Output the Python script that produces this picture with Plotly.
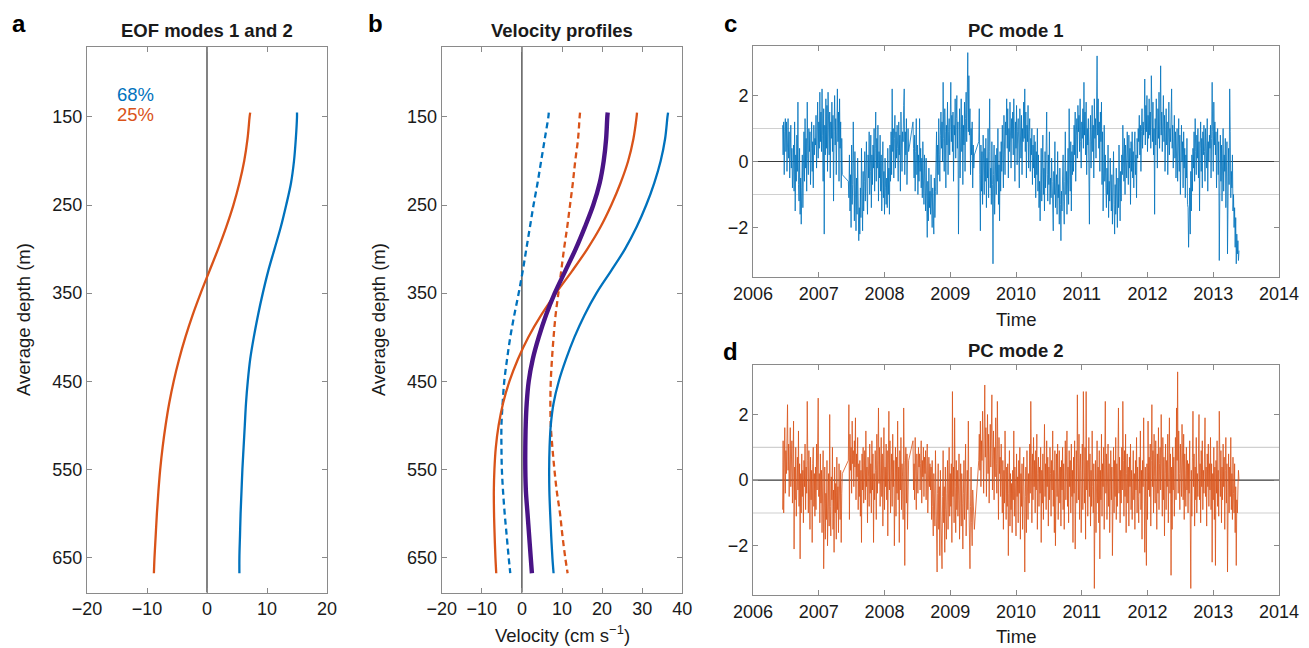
import plotly.graph_objects as go

# ---------------- Panel a / b : depth profiles ----------------
depths = [145, 150, 175, 200, 225, 250, 275, 300, 325, 350, 375, 400, 425, 450,
          475, 500, 525, 550, 575, 600, 625, 650, 668]

eof1 = [15.0, 15.0, 14.8, 14.5, 14.0, 13.2, 12.3, 11.25, 10.2, 9.3, 8.5, 7.8, 7.2, 6.8,
        6.5, 6.3, 6.1, 5.9, 5.75, 5.6, 5.5, 5.4, 5.4]
eof2 = [7.2, 7.1, 6.75, 6.2, 5.4, 4.4, 3.2, 1.85, 0.4, -1.05, -2.4, -3.6, -4.65, -5.55,
        -6.3, -6.9, -7.4, -7.8, -8.1, -8.35, -8.55, -8.75, -8.85]

vel_mean = [21.4, 21.3, 21.0, 20.4, 19.4, 17.8, 15.7, 13.4, 10.8, 8.2, 6.0, 4.2, 2.7, 1.7,
            1.2, 0.95, 0.85, 0.85, 1.0, 1.4, 1.8, 2.2, 2.5]
vel_mode1_plus = [36.45, 36.3, 35.7, 34.6, 33.0, 31.0, 28.6, 25.7, 22.2, 18.6, 15.6, 13.1, 11.0, 9.2,
                  7.9, 7.2, 6.9, 6.8, 6.85, 7.05, 7.3, 7.6, 7.9]
vel_mode1_minus = [6.7, 6.6, 5.7, 4.8, 3.9, 2.9, 2.0, 1.1, 0.2, -0.8, -1.9, -2.9, -3.7, -4.4,
                   -4.8, -5.1, -5.1, -5.0, -4.7, -4.3, -3.8, -3.3, -2.9]
vel_mode2_plus = [28.7, 28.6, 27.8, 26.5, 24.6, 22.3, 19.6, 16.3, 12.5, 8.5, 4.8, 1.6, -1.0, -3.1,
                  -4.7, -5.8, -6.5, -6.85, -7.0, -6.95, -6.8, -6.6, -6.4]
vel_mode2_minus = [14.5, 14.4, 14.0, 13.3, 12.7, 12.0, 11.3, 10.5, 9.8, 9.1, 8.4, 7.9, 7.5, 7.2,
                   7.1, 7.2, 7.6, 8.1, 8.7, 9.5, 10.1, 10.8, 11.4]

variance_labels = ["68%", "25%"]

# ---------------- Panel c / d : principal component time series ----------------
pc_start_year = 2006.45
pc_samples_per_year = 120
N = None
pc1_values = [
    1.1, 0.2, 1.2, -0.4, 0.9, 1.3, 0.3, 1.2, -0.3, 0.8,
    1.3, 0.1, 0.9, -0.5, 0.6, 1.1, -0.2, 0.4, -0.8, 0.3,
    0.5, -0.9, 1.2, -1.5, 0.2, -0.6, 0.8, -0.3, 1.8, -0.7,
    -1.2, 0.4, -1.6, -0.5, -1.9, -0.8, 0.2, -1.4, -0.3, 0.9,
    -0.6, 1.3, -0.2, 0.7, -0.9, 1.8, 0.1, -0.4, 1.0, 0.3,
    0.9, -0.7, 0.4, 1.2, -0.3, 0.6, -0.8, 1.1, 0.2, 0.7,
    0.5, 1.4, -0.2, 0.9, 1.8, 0.1, 1.2, 0.4, 2.1, 0.6,
    1.5, 0.3, 2.2, 0.8, -0.6, 1.6, -2.2, 1.1, 0.2, 1.9,
    0.4, 1.7, -0.3, 2.1, 0.9, 0.2, 1.5, -0.5, 1.2, 0.7,
    1.8, 0.3, 1.4, -1.2, 0.9, 2.0, 0.5, 1.3, -0.4, 1.7,
    2.2, 0.6, 1.5, -0.6, 1.9, 0.4, 1.2, -0.8, 0.7, -0.4,
    N, N, N, N, N, N, N, N, N, N,
    -0.6, -1.1, 0.2, -1.5, -0.4, -2.0, 0.5, -1.3, -0.7, 1.2,
    -0.9, -1.8, 0.3, -1.2, -2.1, -0.5, -1.6, 0.1, -1.0, -2.4,
    -1.4, -2.2, -0.8, -1.7, 0.4, -1.1, -2.1, -0.3, -1.5, -0.6,
    0.3, -1.2, -0.4, 0.6, -0.9, -1.6, 0.2, -0.5, 0.9, -1.0,
    -0.3, 0.8, -1.4, 0.2, -0.7, 0.5, -0.2, 1.0, -0.9, 0.4,
    1.5, -0.6, 0.7, -0.2, 1.1, -1.2, 0.3, -0.5, 0.8, -0.9,
    0.2, -1.5, -0.4, 0.6, -1.1, -0.3, -1.6, 0.1, -0.8, -1.3,
    -0.5, -1.4, 0.4, -1.0, -0.2, -1.6, 0.5, -0.6, 0.9, -0.4,
    2.2, 0.3, 1.0, -0.5, 0.7, 1.4, -0.2, 0.9, 0.1, 1.1,
    0.4, -0.6, 1.2, 0.2, 0.8, -0.9, 1.5, 0.5, -0.3, 0.9,
    0.6, 1.7, 2.2, -0.4, 0.9, 0.2, 1.3, -0.7, 0.5, 1.0,
    0.3, N, N, N, N, N, N, N, 1.2, 0.4,
    -0.5, 0.8, -0.9, 0.3, 1.3, -0.4, 0.5, -1.0, 0.2, -0.6,
    1.3, -0.3, 0.4, -0.8, 0.1, -1.1, 0.6, -0.5, -1.3, 0.2,
    -0.7, -1.5, 0.1, -1.2, -2.3, -0.6, -1.8, -0.2, -1.4, -0.9,
    -1.6, -0.4, -1.1, -2.0, -0.8, -1.3, -2.2, -0.5, -1.7, -0.9,
    -0.3, 0.9, -1.0, 0.5, -0.4, 1.3, 0.2, -0.6, 0.8, 1.5,
    0.4, 1.2, 0.0, 2.4, 0.7, -0.3, 1.6, 0.9, -0.8, 1.1,
    0.5, 1.8, -0.4, 0.9, 1.3, 0.2, 1.0, 2.4, 0.6, 1.4,
    0.3, 1.5, -0.6, 1.1, 0.8, 1.9, 0.1, 1.3, 2.0, 0.4,
    1.2, -2.2, 0.7, 1.6, -0.5, 1.0, 1.9, 0.3, 1.4, -0.7,
    1.1, 0.5, 1.8, -0.3, 1.3, 2.1, 0.6, 1.5, 3.3, 0.9,
    2.6, 0.8, 1.6, -0.4, 1.0, 0.2, 1.2, -0.8, 0.5, -0.2,
    0.2, N, N, N, N, N, N, N, 0.6, 1.6,
    -0.4, -2.1, 0.5, -0.9, 0.3, -1.3, 0.8, -0.2, -1.0, 0.4,
    -0.6, 0.7, -1.4, 0.1, -0.5, 1.0, -1.1, 0.3, 1.9, -0.8,
    -0.2, -1.3, 0.6, -0.7, -3.1, -0.4, 0.5, -1.6, -0.3, 0.2,
    -1.0, 0.4, -0.6, 1.0, -1.3, -0.1, -1.8, 0.3, -0.9, 0.6,
    -0.3, 1.1, 0.2, -0.8, 1.4, 0.5, -0.4, 1.2, 0.8, 1.9,
    0.4, 1.6, -0.5, 1.0, 0.3, 1.8, 0.6, -0.2, 1.3, 0.7,
    1.5, 0.2, 1.9, 0.8, -0.6, 1.2, 0.4, 1.7, -0.1, 0.9,
    1.3, 0.5, -0.8, 1.6, 0.9, 0.1, 1.4, -0.4, 1.0, 0.6,
    1.8, 0.7, 2.2, 0.3, 1.5, -0.5, 1.1, 0.6, 1.7, -0.2,
    0.9, 1.3, -0.3, 0.7, 0.2, 1.0, -0.7, 0.5, -0.2, 0.8,
    -0.5, 0.6, -1.1, 0.3, -0.4, 1.0, -0.9, 0.2, -1.4, -0.6,
    -1.8, -0.3, 0.4, -1.2, -0.6, 0.8, -1.0, -0.2, -1.5, 0.3,
    -0.8, 0.5, 1.5, -0.4, -1.2, 0.2, -0.7, 0.9, -1.3, -0.5,
    -1.1, 0.1, -0.6, -1.5, -2.1, -0.3, -1.0, 0.6, -1.4, -0.8,
    -0.4, -1.6, 0.3, -1.1, -0.7, -1.9, -0.2, -1.3, -2.4, -0.9,
    -1.5, -0.5, 0.2, -1.2, -1.9, -0.6, 0.9, -1.0, -0.3, -1.6,
    -0.7, 0.4, -1.3, 1.6, -0.2, -0.9, 0.6, -1.5, 0.3, -0.4,
    0.5, -0.3, 1.1, 0.2, 1.5, -0.6, 0.8, 1.3, 0.1, 1.7,
    0.9, 1.4, 0.3, 1.9, 0.6, -0.2, 1.2, 0.7, 1.6, 0.4,
    2.4, 0.8, 1.5, 0.2, 1.8, -0.4, 1.0, 0.5, 1.3, -0.6,
    -1.9, 0.6, 1.4, -0.2, 0.9, 1.7, 0.3, 1.1, -0.5, 1.9,
    0.7, 1.3, 0.1, 1.6, 3.2, 0.8, 1.9, 0.4, 1.2, -0.3,
    1.5, 0.6, 1.8, -0.7, 0.9, -1.5, 0.4, 1.1, -0.6, 0.2,
    -0.8, -1.4, -0.2, -1.0, 0.5, -1.7, -0.6, -1.2, 0.1, -0.9,
    -1.5, -0.4, -1.9, -0.8, 0.3, -1.3, -2.2, -0.7, -1.6, -0.2,
    -1.1, -2.0, -0.5, -1.4, 0.5, -0.9, -1.8, -0.3, -1.2, 0.2,
    -0.4, 1.1, 0.3, -0.6, 0.7, -1.0, 0.5, 0.1, -0.5, 0.9,
    0.2, -0.7, 0.8, -0.2, 0.4, -1.3, 0.6, -0.3, 0.9, -0.5,
    0.3, -0.8, 0.5, 0.9, -0.4, 0.2, -1.1, 0.7, 0.1, 1.0,
    0.6, 1.4, 0.2, 1.1, -0.3, 0.9, 1.6, 0.4, 1.2, 0.8,
    1.1, 2.5, 0.5, 1.7, 0.9, 2.0, 0.3, 1.4, 0.7, 1.9,
    0.8, 1.5, 0.4, 2.6, 1.2, 0.6, 1.8, 0.2, 1.0, -1.6,
    1.3, 0.5, 1.9, 0.9, -0.2, 1.6, 0.7, 2.1, 0.4, 1.2,
    2.9, 0.8, 1.5, 0.3, 1.1, 2.0, 0.6, 1.4, -0.3, 0.9,
    1.6, 0.5, 1.2, -0.4, 0.8, 1.8, 0.2, 1.0, 0.6, 1.3,
    2.2, 0.4, 1.1, -0.2, 0.7, 1.4, 0.1, 0.9, -0.5, 0.6,
    1.0, -0.6, 0.5, 1.3, -0.3, 0.8, -1.0, 0.4, 1.1, 0.0,
    0.6, -0.8, 0.9, -0.2, 0.4, -1.1, 0.2, -0.5, 0.7, -1.3,
    -1.4, -2.6, -1.9, -0.8, -2.2, -0.3, -1.5, 0.2, -0.9, 0.4,
    -0.2, 0.9, -0.6, 1.3, 0.3, -0.4, 0.8, 0.1, 1.0, -0.5,
    0.6, -1.5, 0.4, 1.2, -0.3, 0.7, -0.8, 0.9, 0.2, 1.1,
    0.3, -0.6, 1.0, 0.5, -0.2, 1.3, -0.9, 0.6, 0.0, 0.8,
    0.4, 1.1, -0.5, 0.7, 2.4, 0.9, -0.3, 1.8, 0.5, 1.2,
    0.2, 0.9, -0.8, 0.5, 1.0, -0.4, 0.6, -3.0, -0.2, 0.8,
    -0.6, 0.5, -1.2, 0.3, 1.0, -0.9, 0.2, -0.3, 0.7, -1.4,
    -0.5, 0.6, -2.8, -1.0, 0.4, -0.7, 2.2, 0.9, -1.1, -0.3,
    -0.8, 0.2, -1.5, -1.0, -2.0, -1.4, -2.6, -1.7, -3.1, -2.2,
    -2.8, -2.4, -3.0, -2.7,
]

pc2_values = [
    -0.9, 1.2, -1.0, 0.6, 1.6, -0.4, 0.9, 0.2, 1.4, 2.3,
    0.3, 1.1, -0.5, 0.8, 1.6, -0.2, 0.5, 1.2, -0.7, 0.9,
    1.8, -2.1, 0.4, -0.6, 1.0, -1.1, 0.3, 0.7, -0.3, 1.5,
    -0.8, 0.5, -2.4, 0.2, -1.0, 0.8, -0.5, 0.3, -1.3, 0.6,
    -0.2, 1.1, -0.9, 0.4, -0.4, 2.4, 0.6, -1.0, 0.9, -0.3,
    -1.5, 0.7, -0.6, 0.3, -1.9, 0.5, 1.0, -0.8, 0.2, -1.1,
    0.4, -0.9, 1.1, -0.3, 0.6, 2.5, -0.5, 0.2, -1.3, 0.8,
    -0.7, 0.3, -1.6, -0.2, 0.9, -2.7, -0.9, 0.4, -1.8, -0.4,
    -1.2, 0.6, -2.0, -0.5, 0.2, -1.4, 2.0, -0.8, -1.7, 0.1,
    -0.6, 1.0, -1.5, -0.3, -2.2, 0.4, -1.0, -0.1, -1.8, 0.7,
    -0.9, -0.2, -1.6, 0.5, -0.6, -1.2, 0.3, -1.9, -0.4, 0.2,
    N, N, N, N, N, N, N, N, N, N,
    0.6, 2.3, -1.2, 1.4, 0.3, 1.0, -0.4, 1.8, 0.5, 0.9,
    -0.2, 1.2, 0.4, 1.9, -0.6, 0.8, 0.1, 1.3, -0.9, 0.5,
    -0.5, 0.6, -1.1, 0.3, -1.9, 0.8, -0.3, 1.0, -0.7, 0.2,
    0.9, -0.6, 1.5, -0.2, 0.4, -1.3, 0.7, 0.1, -0.8, 1.1,
    -0.4, 0.5, -1.0, 1.2, -0.3, 0.8, -1.9, 0.2, -0.6, 0.9,
    0.3, -1.2, 1.4, -0.4, 0.6, 2.2, -0.1, 1.0, -0.8, 0.5,
    1.3, -0.5, 0.8, -1.4, 0.2, 1.6, -0.9, 0.4, -0.2, 1.1,
    -0.6, 0.9, -1.7, 0.5, 2.1, -0.3, 1.2, -1.0, 0.3, 0.8,
    -0.8, 1.4, -0.2, 0.6, -2.0, 0.3, 1.0, -1.1, 0.7, -0.4,
    1.8, -0.6, 0.4, -1.9, 0.9, -0.3, 1.3, -0.9, 0.5, 0.1,
    -1.2, 2.2, 0.6, -2.6, 0.4, 1.0, -0.7, 0.8, -1.5, 0.3,
    0.6, N, N, N, N, N, N, N, 1.2, -0.3,
    0.5, -0.6, 1.3, 0.2, -0.9, 0.8, 0.3, -0.4, 1.0, 0.4,
    0.8, -0.3, 0.5, 1.2, -0.7, 0.6, 0.1, 1.0, -0.5, 0.7,
    0.2, 0.9, -0.6, 0.4, 1.1, -1.0, 0.3, 0.7, -0.2, 0.5,
    -0.3, 0.4, -1.2, 0.6, -0.8, -1.7, 0.2, -0.5, -1.4, 0.9,
    -0.6, -1.9, -2.8, -0.4, 0.5, -1.5, -0.2, -2.3, 0.3, -1.0,
    -1.6, -2.7, -0.5, 0.9, -1.3, -0.2, -2.2, 0.4, -0.9, -1.8,
    -0.4, 0.6, -1.5, -0.3, 1.0, -1.1, 0.2, -0.8, 0.5, -1.9,
    2.7, -0.5, 0.4, -1.3, 1.9, -0.2, -1.6, 0.6, -0.9, 0.3,
    -1.1, -0.3, 0.8, -1.8, -0.6, 0.5, -1.4, 0.2, -0.7, -2.1,
    -0.4, 0.6, -1.2, -0.2, 1.1, -1.7, -0.5, 0.3, -0.9, 1.8,
    -0.6, -1.9, -2.7, -0.8, 0.4, -1.3, -2.0, -0.3, -1.0, -1.5,
    -1.5, N, N, N, N, N, N, N, 0.6, 1.4,
    0.3, 1.8, -0.2, 1.2, 0.6, 2.1, 0.8, -0.4, 1.5, 2.9,
    0.7, 1.6, -0.5, 1.1, 2.0, 0.2, 1.4, -0.7, 0.9, 1.7,
    0.4, 1.2, 2.6, -0.3, 0.8, 1.5, -0.6, 1.0, 0.1, 1.9,
    0.5, -0.4, 2.4, 0.9, -1.2, 1.3, 0.2, 0.7, -0.5, 1.1,
    -0.2, -1.0, 0.6, -1.5, 0.3, -0.7, 1.5, -0.3, -1.2, 0.4,
    -0.8, 0.5, -2.3, -0.4, 0.9, -1.4, 0.2, -0.9, -0.1, -1.6,
    0.3, -0.6, 1.5, -1.1, 0.4, -0.3, -1.7, 0.8, -0.5, 0.1,
    -1.3, 0.6, -0.4, 1.0, -1.8, 0.2, -0.8, 0.5, -1.5, -0.2,
    0.7, -1.0, -2.8, -0.5, 0.4, -1.6, 0.9, -0.3, -1.2, 0.2,
    -0.7, 1.1, -0.4, 2.4, 0.5, -1.3, 0.8, -0.6, 1.3, -0.2,
    0.6, -1.0, 0.9, -0.3, 1.4, -1.5, 0.2, 0.7, -0.8, 0.4,
    -0.4, 1.0, -1.9, 0.3, -0.7, 0.8, -1.2, 0.1, 1.7, -0.5,
    0.5, -0.9, 1.2, -0.2, 0.7, -1.4, 0.4, -0.6, 1.0, 0.2,
    -1.1, 0.6, -0.3, 1.5, -0.8, 0.3, -1.6, 0.9, -2.0, -0.4,
    0.8, -0.5, 1.1, -1.2, 0.2, 0.9, -0.7, 0.4, -1.4, 0.6,
    -0.3, 1.0, -0.9, 0.5, -1.5, 0.3, 1.2, -0.6, 0.7, 1.5,
    -0.8, 0.4, -1.3, 0.9, -0.2, 0.6, -1.0, 1.1, -0.5, 0.3,
    -1.9, 0.7, -0.4, 1.2, -2.1, 0.2, 0.9, -0.7, 2.6, 0.5,
    -0.6, 1.4, -1.2, 0.3, 0.8, -1.6, 0.5, 1.1, -0.9, 2.7,
    0.4, -0.7, 1.0, -1.8, 2.7, -0.3, 0.6, -1.1, 0.2, 1.3,
    -0.5, 0.8, -1.4, 0.3, -0.8, 1.5, -0.2, -1.0, 0.5, -3.3,
    -0.9, 0.6, -1.6, 0.2, 1.2, -0.7, 0.4, -1.3, 0.9, -2.4,
    0.3, -0.6, 1.4, -1.1, 0.5, -0.2, 1.0, -1.5, 0.7, 2.4,
    -0.4, 0.8, -1.2, 0.3, 1.1, -0.8, 0.5, -1.6, 0.2, 0.9,
    -0.6, 0.4, -2.3, -0.3, 1.0, -1.0, 0.6, -0.5, 1.3, -1.2,
    0.5, -0.8, 1.2, 2.2, -0.4, 0.7, -1.3, 0.3, -0.7, 1.0,
    -0.3, 2.4, 0.6, -1.1, 0.9, -0.5, 1.4, -1.6, 0.2, 0.8,
    -0.7, 0.4, -1.4, 0.7, -0.2, 1.1, -0.9, 0.3, -1.2, 0.5,
    0.9, -0.6, 0.2, -1.5, 0.6, -0.3, 1.3, -1.0, 0.4, -0.5,
    -1.3, 0.7, -0.4, 1.5, -0.9, 0.3, -1.8, 0.6, -0.2, 1.9,
    -0.8, -2.2, 0.4, -0.6, -2.6, 0.5, -1.2, 1.8, -0.3, 0.7,
    -0.5, 1.1, -1.4, 0.6, 2.3, -0.2, 0.9, -1.0, 1.4, 0.1,
    -0.7, 1.2, 0.3, -1.5, 0.8, -0.4, 1.6, -0.9, 0.5, 1.0,
    -0.3, 2.0, 0.4, -1.1, 1.3, -0.6, 0.7, -1.7, 0.2, 1.1,
    -0.9, 0.6, -0.2, 1.4, -1.3, 0.5, 1.9, -0.4, 0.8, -2.9,
    0.4, -1.5, 1.0, -0.3, 0.7, -1.1, 0.5, 1.3, -0.6, 2.2,
    0.6, 3.3, -0.4, 1.5, 0.2, -0.9, 1.1, 0.4, -0.5, 1.7,
    0.3, -0.6, 1.4, -1.2, 0.8, 0.1, -0.8, 1.0, -0.3, 0.6,
    -1.0, 0.5, -0.4, 1.2, -0.7, -3.3, 0.3, -1.1, 0.7, 2.1,
    -0.2, 0.8, -1.4, 0.4, -0.6, 1.3, -1.0, 0.2, -0.5, 0.9,
    2.0, -0.6, 0.5, -1.3, 0.9, -0.2, 1.2, -0.9, 0.3, -0.4,
    0.7, 1.9, -0.5, 0.4, -1.4, 0.8, -0.2, 1.1, -0.8, 0.5,
    -0.3, 1.3, -0.9, 0.5, -2.5, 0.2, -0.6, 1.0, -1.2, 0.4,
    -2.6, 0.6, -0.4, 1.2, -0.8, 0.3, -1.1, 2.1, 0.2, -0.5,
    0.9, -1.3, 0.4, -0.6, 1.1, -0.2, 0.7, -1.5, 0.3, 1.3,
    -0.7, 0.5, -2.8, -0.3, 0.8, -1.0, 0.4, -0.5, 1.3, -0.9,
    0.2, -1.2, 0.7, -0.4, -1.0, 0.5, -1.6, -0.2, -2.6, -0.6,
    -1.0, -0.3, 0.3, 0.0,
]

pc1_time = [pc_start_year + i / pc_samples_per_year for i in range(len(pc1_values))]
pc2_time = [pc_start_year + i / pc_samples_per_year for i in range(len(pc2_values))]

time_ticks = [2006, 2007, 2008, 2009, 2010, 2011, 2012, 2013, 2014]
depth_ticks = [150, 250, 350, 450, 550, 650]

# ---------------- styling ----------------
BLUE = "#0072BD"
ORANGE = "#D95319"
PURPLE = "#4A1486"
AX = "#8a8a8a"
TXT = "#1a1a1a"
FONT = "Liberation Sans, Arial, Helvetica, sans-serif"
PAGE_OFF = 8            # default body margin of the html page
W, H = 1309 - PAGE_OFF, 648 - PAGE_OFF


def px_x(p):
    return (p - PAGE_OFF) / W


def px_y(p):
    return 1 - (p - PAGE_OFF) / H


fig = go.Figure()

# panel a
fig.add_trace(go.Scatter(x=eof1, y=depths, mode="lines", line=dict(color=BLUE, width=2.3, shape="spline"),
                         xaxis="x", yaxis="y", showlegend=False))
fig.add_trace(go.Scatter(x=eof2, y=depths, mode="lines", line=dict(color=ORANGE, width=2.3, shape="spline"),
                         xaxis="x", yaxis="y", showlegend=False))

# panel b
dash = "6px,4px"
fig.add_trace(go.Scatter(x=vel_mode1_minus, y=depths, mode="lines",
                         line=dict(color=BLUE, width=2.3, dash=dash, shape="spline"),
                         xaxis="x2", yaxis="y2", showlegend=False))
fig.add_trace(go.Scatter(x=vel_mode2_minus, y=depths, mode="lines",
                         line=dict(color=ORANGE, width=2.3, dash=dash, shape="spline"),
                         xaxis="x2", yaxis="y2", showlegend=False))
fig.add_trace(go.Scatter(x=vel_mode1_plus, y=depths, mode="lines",
                         line=dict(color=BLUE, width=2.3, shape="spline"),
                         xaxis="x2", yaxis="y2", showlegend=False))
fig.add_trace(go.Scatter(x=vel_mode2_plus, y=depths, mode="lines",
                         line=dict(color=ORANGE, width=2.3, shape="spline"),
                         xaxis="x2", yaxis="y2", showlegend=False))
fig.add_trace(go.Scatter(x=vel_mean, y=depths, mode="lines",
                         line=dict(color=PURPLE, width=4.4, shape="spline"),
                         xaxis="x2", yaxis="y2", showlegend=False))

# panels c, d
fig.add_trace(go.Scatter(x=pc1_time, y=pc1_values, mode="lines", connectgaps=True,
                         line=dict(color=BLUE, width=0.8), xaxis="x3", yaxis="y3", showlegend=False))
fig.add_trace(go.Scatter(x=pc2_time, y=pc2_values, mode="lines", connectgaps=True,
                         line=dict(color=ORANGE, width=0.8), xaxis="x4", yaxis="y4", showlegend=False))

tickfont = dict(family=FONT, size=18, color=TXT)
common = dict(showline=True, linecolor=AX, linewidth=1, mirror="ticks", ticks="inside",
              ticklen=5, tickcolor=AX, showgrid=False, zeroline=False, tickfont=tickfont,
              automargin=False)

ab_y = [px_y(592.6), px_y(46.5)]
c_y = [px_y(277), px_y(46)]
d_y = [px_y(595), px_y(365.3)]
cd_x = [px_x(753), px_x(1279)]

fig.update_layout(
    width=W, height=H, autosize=False,
    margin=dict(l=0, r=0, t=0, b=0),
    paper_bgcolor="white", plot_bgcolor="white",
    font=dict(family=FONT, size=18, color=TXT),
    xaxis=dict(domain=[px_x(87), px_x(327)], range=[-20, 20], tickvals=[-20, -10, 0, 10, 20],
               ticktext=["\u221220", "\u221210", "0", "10", "20"], anchor="y", **common),
    yaxis=dict(domain=ab_y, range=[690, 70], tickvals=depth_ticks, anchor="x", **common),
    xaxis2=dict(domain=[px_x(441.7), px_x(682.3)], range=[-20, 40], tickvals=[-20, -10, 0, 10, 20, 30, 40],
                ticktext=["\u221220", "\u221210", "0", "10", "20", "30", "40"], anchor="y2", **common),
    yaxis2=dict(domain=ab_y, range=[690, 70], tickvals=depth_ticks, anchor="x2", **common),
    xaxis3=dict(domain=cd_x, range=[2006, 2014], tickvals=time_ticks, anchor="y3", **common),
    yaxis3=dict(domain=c_y, range=[-3.5, 3.5], tickvals=[-2, 0, 2], ticktext=["\u22122", "0", "2"],
                anchor="x3", **common),
    xaxis4=dict(domain=cd_x, range=[2006, 2014], tickvals=time_ticks, anchor="y4", **common),
    yaxis4=dict(domain=d_y, range=[-3.5, 3.5], tickvals=[-2, 0, 2], ticktext=["\u22122", "0", "2"],
                anchor="x4", **common),
)

shapes = []
for xr, yr in (("x", "y domain"), ("x2", "y2 domain")):
    shapes.append(dict(type="line", xref=xr, yref=yr, x0=0, x1=0, y0=0, y1=1,
                       line=dict(color="#404040", width=1.3), layer="below"))
for xr, yr in (("x3 domain", "y3"), ("x4 domain", "y4")):
    for yv, col in ((1, "#d0d0d0"), (-1, "#d0d0d0"), (0, "#3a3a3a")):
        shapes.append(dict(type="line", xref=xr, yref=yr, x0=0, x1=1, y0=yv, y1=yv,
                           line=dict(color=col, width=1.1), layer="below"))
fig.update_layout(shapes=shapes)

ann = []
title_font = dict(family=FONT, size=18.5, color=TXT)
letter_font = dict(family=FONT, size=24, color="#000000")
label_font = dict(family=FONT, size=18.5, color=TXT)


def paper_text(text, x, y, font, angle=0, yanchor="middle"):
    ann.append(dict(text=text, x=px_x(x), y=px_y(y), xref="paper", yref="paper", textangle=angle,
                    showarrow=False, font=font, xanchor="center", yanchor=yanchor))


paper_text("<b>EOF modes 1 and 2</b>", 207, 30, title_font)
paper_text("<b>Velocity profiles</b>", 562, 30, title_font)
paper_text("<b>PC mode 1</b>", 1016, 30, title_font)
paper_text("<b>PC mode 2</b>", 1016, 350, title_font)
# panel letters, anchored at their top so the text box stays inside the figure
paper_text("<b>a</b>", 18.5, PAGE_OFF, letter_font, yanchor="top")
paper_text("<b>b</b>", 375, PAGE_OFF, letter_font, yanchor="top")
paper_text("<b>c</b>", 730, PAGE_OFF, letter_font, yanchor="top")
paper_text("<b>d</b>", 730, 351, letter_font)
paper_text("Average depth (m)", 23, 320, label_font, -90)
paper_text("Average depth (m)", 378, 320, label_font, -90)
paper_text("Velocity (cm s<sup>\u22121</sup>)", 562, 634, label_font)
paper_text("Time", 1016, 319, label_font)
paper_text("Time", 1016, 636, label_font)

ann.append(dict(text=variance_labels[0], x=-12, y=124, xref="x", yref="y", showarrow=False,
                font=dict(family=FONT, size=18.5, color=BLUE), xanchor="center", yanchor="middle"))
ann.append(dict(text=variance_labels[1], x=-12, y=147, xref="x", yref="y", showarrow=False,
                font=dict(family=FONT, size=18.5, color=ORANGE), xanchor="center", yanchor="middle"))
fig.update_layout(annotations=ann)

fig.write_html("out.html")
